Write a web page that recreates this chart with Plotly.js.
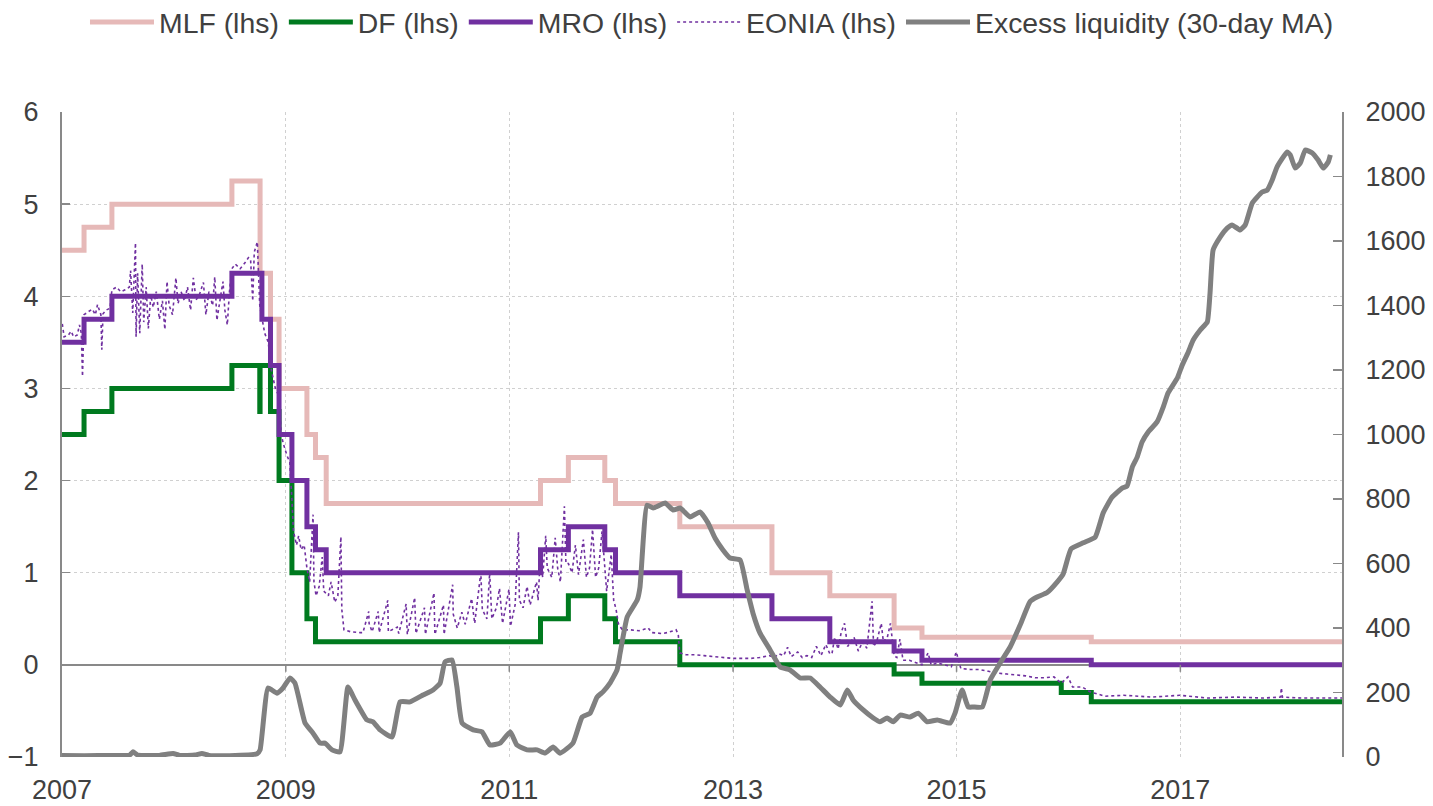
<!DOCTYPE html>
<html>
<head>
<meta charset="utf-8">
<script src="https://cdn.plot.ly/plotly-3.0.1.min.js"></script>
<style>html,body{margin:0;padding:0;background:#fff;}#chart{width:1433px;height:806px;}</style>
</head>
<body>
<div id="chart"></div>
<script>
// ---- Policy rates (step changes, effective dates) ----
const mlfDates = ['2007-01-01','2007-03-14','2007-06-13','2008-07-09','2008-10-09','2008-11-12','2008-12-10','2009-03-11','2009-04-08','2009-05-13','2011-04-13','2011-07-13','2011-11-09','2011-12-14','2012-07-11','2013-05-08','2013-11-13','2014-06-11','2014-09-10','2016-03-16','2018-06-13'];
const mlfValues = [4.50,4.75,5.00,5.25,4.25,3.75,3.00,2.50,2.25,1.75,2.00,2.25,2.00,1.75,1.50,1.00,0.75,0.40,0.30,0.25,0.25];

const dfDates = ['2007-01-01','2007-03-14','2007-06-13','2008-07-09','2008-10-08','2008-10-09','2008-11-12','2008-12-10','2009-01-21','2009-03-11','2009-04-08','2011-04-13','2011-07-13','2011-11-09','2011-12-14','2012-07-11','2014-06-11','2014-09-10','2015-12-09','2016-03-16','2018-06-13'];
const dfValues = [2.50,2.75,3.00,3.25,2.75,3.25,2.75,2.00,1.00,0.50,0.25,0.50,0.75,0.50,0.25,0.00,-0.10,-0.20,-0.30,-0.40,-0.40];

const mroDates = ['2007-01-01','2007-03-14','2007-06-13','2008-07-09','2008-10-15','2008-11-12','2008-12-10','2009-01-21','2009-03-11','2009-04-08','2009-05-13','2011-04-13','2011-07-13','2011-11-09','2011-12-14','2012-07-11','2013-05-08','2013-11-13','2014-06-11','2014-09-10','2016-03-16','2018-06-13'];
const mroValues = [3.50,3.75,4.00,4.25,3.75,3.25,2.50,2.00,1.50,1.25,1.00,1.25,1.50,1.25,1.00,0.75,0.50,0.25,0.15,0.05,0.00,0.00];

// ---- EONIA ----
const eoniaDates = [
'2007-01-02','2007-01-08','2007-01-22','2007-01-31','2007-02-08','2007-02-20','2007-02-27','2007-03-05','2007-03-09','2007-03-14','2007-03-27','2007-04-10','2007-04-20','2007-04-27','2007-05-08','2007-05-11','2007-05-15','2007-05-25','2007-06-07','2007-06-13','2007-06-28','2007-07-12','2007-07-26','2007-08-09','2007-08-13','2007-08-20','2007-08-29','2007-08-31','2007-09-05','2007-09-12','2007-09-20','2007-09-25','2007-10-03','2007-10-10','2007-10-18','2007-10-26','2007-11-05','2007-11-15','2007-11-25','2007-12-03','2007-12-10','2007-12-17','2007-12-28',
'2008-01-08','2008-01-15','2008-01-25','2008-02-05','2008-02-15','2008-02-25','2008-03-05','2008-03-14','2008-03-25','2008-04-07','2008-04-15','2008-04-25','2008-05-07','2008-05-14','2008-05-21','2008-06-02','2008-06-10','2008-06-16','2008-06-24','2008-07-01','2008-07-09','2008-07-20','2008-08-05','2008-08-20','2008-09-01','2008-09-08','2008-09-15','2008-09-20','2008-09-30','2008-10-08','2008-10-15','2008-10-24','2008-11-05','2008-11-12','2008-11-18','2008-11-28','2008-12-05','2008-12-10','2008-12-17','2008-12-24',
'2009-01-05','2009-01-14','2009-01-21','2009-01-26','2009-02-05','2009-02-12','2009-02-20','2009-03-02','2009-03-11','2009-03-20','2009-03-31','2009-04-03','2009-04-10','2009-04-20','2009-04-30','2009-05-05','2009-05-20','2009-05-29','2009-06-10','2009-06-20','2009-06-30','2009-07-03','2009-07-10','2009-07-31','2009-08-31','2009-09-10','2009-09-29','2009-09-30','2009-10-10','2009-10-30','2009-11-02','2009-11-30','2009-12-02','2009-12-31',
'2010-01-05','2010-01-29','2010-02-02','2010-02-26','2010-03-02','2010-03-30','2010-04-02','2010-04-30','2010-05-03','2010-05-31','2010-06-02','2010-06-30','2010-07-02','2010-07-15','2010-07-30','2010-08-10','2010-08-31','2010-09-10','2010-09-30','2010-10-05','2010-10-20','2010-10-29','2010-11-05','2010-11-20','2010-11-30','2010-12-10','2010-12-31',
'2011-01-05','2011-01-20','2011-01-31','2011-02-03','2011-02-15','2011-02-28','2011-03-10','2011-03-31','2011-04-05','2011-04-13','2011-04-20','2011-04-30','2011-05-05','2011-05-20','2011-05-31','2011-06-08','2011-06-17','2011-06-30','2011-07-05','2011-07-13','2011-07-25','2011-08-05','2011-08-15','2011-08-31','2011-09-10','2011-09-20','2011-09-30','2011-10-10','2011-10-20','2011-10-31','2011-11-07','2011-11-15','2011-11-30','2011-12-08','2011-12-16','2011-12-23',
'2012-01-05','2012-01-31','2012-02-29','2012-03-30','2012-04-10','2012-05-15','2012-05-31','2012-06-29','2012-07-06','2012-07-11','2012-07-31','2012-08-31','2012-09-28','2012-10-31','2012-11-30','2012-12-31',
'2013-01-31','2013-02-28','2013-03-29','2013-04-30','2013-05-15','2013-05-31','2013-06-15','2013-06-28','2013-07-10','2013-07-31','2013-08-15','2013-08-30','2013-09-15','2013-09-30','2013-10-15','2013-10-31','2013-11-13','2013-11-20','2013-11-29','2013-12-10','2013-12-20','2013-12-31',
'2014-01-10','2014-01-31','2014-02-14','2014-02-28','2014-03-14','2014-03-31','2014-04-05','2014-04-15','2014-04-30','2014-05-07','2014-05-20','2014-05-30','2014-06-11','2014-06-20','2014-06-30','2014-07-10','2014-07-31','2014-08-29','2014-09-10','2014-09-30','2014-10-10','2014-10-31','2014-11-28','2014-12-15','2014-12-31',
'2015-01-15','2015-02-15','2015-03-15','2015-04-15','2015-05-15','2015-06-15','2015-07-15','2015-08-15','2015-09-15','2015-10-15','2015-11-15','2015-12-09','2015-12-31',
'2016-01-15','2016-02-15','2016-03-16','2016-03-31','2016-04-30','2016-06-30','2016-09-30','2016-12-30',
'2017-03-31','2017-06-30','2017-09-29','2017-11-24','2017-11-27','2017-11-30','2018-01-31','2018-03-30','2018-06-13'];
const eoniaValues = [
3.70,3.56,3.58,3.62,3.56,3.58,3.69,3.60,3.13,3.80,3.83,3.86,3.80,3.91,3.80,3.42,3.81,3.85,3.87,4.07,4.10,4.05,4.07,4.10,4.28,3.82,4.58,3.56,4.25,3.60,4.35,3.72,4.10,3.65,4.01,3.88,4.05,3.75,3.95,3.64,4.16,3.90,3.80,
4.20,3.92,4.05,3.95,4.10,3.85,4.20,3.96,4.02,4.15,3.80,4.05,3.90,4.21,3.74,4.00,4.16,3.85,3.69,4.05,4.30,4.35,4.30,4.36,4.42,4.40,3.95,4.48,4.59,3.90,3.75,3.60,3.50,3.25,3.15,3.00,2.95,2.90,2.50,2.40,
2.27,2.20,1.80,1.45,1.30,1.40,1.25,1.30,1.05,0.90,1.63,0.90,0.75,0.85,1.17,0.80,0.75,0.90,0.68,0.75,1.39,0.60,0.38,0.36,0.35,0.35,0.58,0.45,0.36,0.58,0.35,0.70,0.36,0.41,
0.34,0.66,0.33,0.73,0.34,0.62,0.33,0.78,0.33,0.65,0.33,0.87,0.55,0.40,0.57,0.44,0.72,0.45,1.00,0.60,0.50,1.00,0.50,0.62,0.83,0.45,0.82,
0.42,0.65,1.44,0.70,0.62,0.85,0.65,0.90,0.70,1.20,0.95,1.40,1.05,0.95,1.38,1.05,0.90,1.72,1.10,1.10,1.00,1.30,0.98,1.36,0.95,1.05,1.47,0.95,1.05,1.45,1.10,0.80,1.20,0.70,0.60,0.45,
0.38,0.38,0.37,0.40,0.35,0.34,0.35,0.38,0.33,0.13,0.11,0.11,0.10,0.09,0.08,0.07,
0.07,0.07,0.08,0.10,0.08,0.12,0.10,0.19,0.09,0.14,0.08,0.10,0.08,0.20,0.10,0.22,0.12,0.12,0.30,0.17,0.35,0.45,
0.20,0.30,0.15,0.25,0.18,0.69,0.20,0.25,0.45,0.25,0.30,0.45,0.10,0.08,0.28,0.05,0.05,0.02,0.00,0.13,0.00,0.02,-0.01,-0.02,0.14,
-0.04,-0.05,-0.05,-0.07,-0.09,-0.10,-0.11,-0.12,-0.14,-0.14,-0.13,-0.20,-0.13,
-0.24,-0.24,-0.30,-0.31,-0.34,-0.33,-0.35,-0.33,
-0.36,-0.35,-0.36,-0.35,-0.25,-0.35,-0.36,-0.36,-0.36];

// ---- Excess liquidity, 30-day MA (EUR bn, rhs) ----
const elDates = ['2007-01-01','2007-03-15','2007-06-15','2007-08-10','2007-08-21','2007-09-05','2007-11-15','2007-12-30','2008-01-20','2008-03-10','2008-04-02','2008-04-25','2008-07-01','2008-09-29','2008-10-09','2008-11-04','2008-12-03','2008-12-23','2009-01-15','2009-01-31','2009-03-05','2009-03-31','2009-04-23','2009-05-09','2009-06-01','2009-06-27','2009-07-23','2009-08-15','2009-09-23','2009-10-13','2009-11-05','2009-12-14','2010-01-09','2010-02-11','2010-03-25','2010-04-27','2010-05-20','2010-06-05','2010-06-28','2010-07-14','2010-07-31','2010-09-05','2010-10-04','2010-10-30','2010-12-02','2011-01-04','2011-01-26','2011-02-28','2011-04-02','2011-04-28','2011-05-24','2011-06-16','2011-07-28','2011-08-27','2011-09-22','2011-10-15','2011-11-03','2011-11-26','2011-12-19','2011-12-29','2012-01-21','2012-02-23','2012-03-03','2012-03-26','2012-04-15','2012-05-24','2012-06-19','2012-07-12','2012-08-14','2012-09-15','2012-10-11','2012-11-03','2012-11-29','2012-12-22','2013-01-24','2013-02-16','2013-03-07','2013-03-30','2013-05-02','2013-06-04','2013-07-06','2013-08-08','2013-09-10','2013-10-12','2013-11-14','2013-12-17','2014-01-09','2014-01-28','2014-03-02','2014-04-04','2014-04-26','2014-05-19','2014-06-08','2014-07-01','2014-08-02','2014-08-29','2014-09-27','2014-10-30','2014-12-11','2014-12-27','2015-01-19','2015-02-08','2015-02-24','2015-03-26','2015-04-21','2015-05-23','2015-06-25','2015-07-28','2015-08-29','2015-09-21','2015-10-24','2015-11-26','2015-12-15','2016-01-10','2016-02-19','2016-03-29','2016-04-24','2016-05-23','2016-06-25','2016-07-11','2016-07-28','2016-08-13','2016-08-29','2016-09-18','2016-10-17','2016-11-06','2016-11-22','2016-12-22','2017-01-07','2017-01-27','2017-02-12','2017-03-07','2017-03-30','2017-04-08','2017-04-18','2017-05-11','2017-06-03','2017-06-19','2017-07-15','2017-08-01','2017-08-24','2017-09-25','2017-10-12','2017-10-28','2017-11-13','2017-12-16','2017-12-26','2018-01-11','2018-01-28','2018-02-13','2018-03-08','2018-03-27','2018-04-13','2018-04-29','2018-05-06'];
const elValues = [5,4,5,6,16,6,5,11,5,6,11,5,4,10,22,214,198,214,245,229,105,74,43,43,22,16,217,177,115,109,84,62,171,171,192,208,229,295,301,217,105,84,78,37,43,78,37,22,22,12,31,12,43,124,136,186,202,229,270,322,434,487,527,781,772,788,766,772,744,760,726,679,642,617,611,518,446,384,332,279,270,245,245,217,186,161,208,177,146,121,109,121,109,130,124,136,109,115,105,136,208,155,155,155,239,291,341,410,482,496,510,543,567,645,664,682,757,806,834,840,899,930,977,1008,1039,1085,1129,1175,1215,1256,1293,1324,1349,1439,1572,1612,1640,1650,1634,1650,1718,1752,1758,1789,1830,1876,1867,1826,1842,1882,1873,1851,1826,1845,1867];

// ---- Axes ----
const xTickDates = ['2007-01-01','2009-01-01','2011-01-01','2013-01-01','2015-01-01','2017-01-01'];
const xTickLabels = ['2007','2009','2011','2013','2015','2017'];
const xRange = ['2007-01-01','2018-06-13'];
const leftRange = [-1, 6];
const rightRange = [0, 2000];

const FONT = 'Liberation Sans, Arial, Helvetica, sans-serif';
const TXT = '#404040';
const AX = '#898989';

const traces = [
  {x: mlfDates, y: mlfValues, name: 'MLF (lhs)', type: 'scatter', mode: 'lines', line: {shape: 'hv', color: '#e6b9b8', width: 5}},
  {x: dfDates, y: dfValues, name: 'DF (lhs)', type: 'scatter', mode: 'lines', line: {shape: 'hv', color: '#007a1f', width: 5}},
  {x: mroDates, y: mroValues, name: 'MRO (lhs)', type: 'scatter', mode: 'lines', line: {shape: 'hv', color: '#7030a0', width: 5}},
  {x: eoniaDates, y: eoniaValues, name: 'EONIA (lhs)', type: 'scatter', mode: 'lines', line: {color: '#7030a0', width: 1.6, dash: 'dot'}},
  {x: elDates, y: elValues, name: 'Excess liquidity (30-day MA)', type: 'scatter', mode: 'lines', yaxis: 'y2', line: {color: '#808080', width: 5, shape: 'spline', smoothing: 0.4}}
];

const tickShapes = xTickDates.slice(1).map(d => ({
  type: 'line', xref: 'x', yref: 'y', ysizemode: 'pixel', yanchor: 0,
  x0: d, x1: d, y0: 0, y1: -7, line: {color: AX, width: 1.5}
}));

const layout = {
  width: 1433, height: 806,
  margin: {l: 62, r: 91, t: 112, b: 49, autoexpand: false},
  paper_bgcolor: '#ffffff', plot_bgcolor: '#ffffff',
  font: {family: FONT, size: 27, color: TXT},
  showlegend: true,
  legend: {orientation: 'h', x: 0.5078, xanchor: 'center', y: 1.1395, yanchor: 'middle',
           font: {family: FONT, size: 28.4, color: TXT}, itemwidth: 64, tracegroupgap: 0, bgcolor: 'rgba(0,0,0,0)'},
  xaxis: {type: 'date', range: xRange, tickvals: xTickDates, ticktext: xTickLabels,
          showgrid: true, gridcolor: '#d0d0d0', griddash: 'dot', gridwidth: 1,
          showline: false, zeroline: false, ticks: '', ticklabelstandoff: 14,
          tickfont: {family: FONT, size: 27, color: TXT}, fixedrange: true},
  yaxis: {range: leftRange, dtick: 1, tick0: 0, showgrid: true, gridcolor: '#d0d0d0', griddash: 'dot', gridwidth: 1,
          zeroline: true, zerolinecolor: AX, zerolinewidth: 1.5,
          showline: true, linecolor: AX, linewidth: 2, ticks: 'inside', ticklen: 8, tickcolor: AX, tickwidth: 1.5,
          ticklabelstandoff: 16, tickfont: {family: FONT, size: 27, color: TXT}, fixedrange: true},
  yaxis2: {range: rightRange, dtick: 200, tick0: 0, overlaying: 'y', side: 'right', showgrid: false, zeroline: false,
           showline: true, linecolor: AX, linewidth: 2, ticks: 'inside', ticklen: 9, tickcolor: AX, tickwidth: 1.5,
           ticklabelstandoff: 16, tickfont: {family: FONT, size: 27, color: TXT}, fixedrange: true},
  shapes: tickShapes
};

Plotly.newPlot('chart', traces, layout, {displayModeBar: false, staticPlot: true});
</script>
</body>
</html>
